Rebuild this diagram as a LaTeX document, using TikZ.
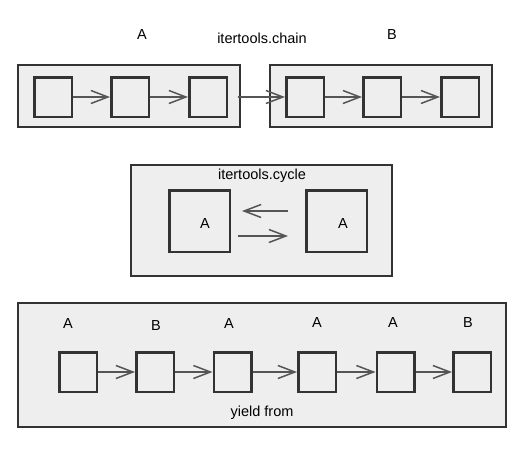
\documentclass[tikz,border=0pt]{standalone}
\usepackage{fontspec}
\setmainfont{Liberation Sans}
\usetikzlibrary{arrows.meta}
\definecolor{panelgray}{HTML}{EEEEEE}
\definecolor{edgegray}{HTML}{333333}
\definecolor{wiregray}{HTML}{555555}

\begin{document}
\begin{tikzpicture}[x=1pt, y=-1pt,
    panel/.style={draw=edgegray, line width=2.2pt, fill=panelgray, inner sep=0pt},
    item/.style={draw=edgegray, line width=2.5pt, minimum width=37.5pt, minimum height=39.5pt, inner sep=0pt},
    link/.style={draw=wiregray, line width=1.7pt, -{Straight Barb[length=17pt, width=13pt, line width=1.5pt]}},
    txt/.style={font=\fontsize{14.5}{16}\selectfont, inner sep=0pt, anchor=base}
  ]
  \useasboundingbox (0,0) rectangle (532,450); % Set the page

  % itertools.chain
  \node[panel, minimum width=222pt, minimum height=62pt] (chainA) at (129,96) {};
  \node[panel, minimum width=222pt, minimum height=62pt] (chainB) at (381,96) {};
  \node[txt] (labA) at (142,39) {A};
  \node[txt] (labB) at (392,39) {B};
  \node[txt] (chain) at (262,43) {itertools.chain};
  \foreach \n/\x in {1/53, 2/130, 3/208} {
    \node[item] (A\n) at (\x,97) {};
  }
  \foreach \n/\x in {1/305, 2/382, 3/460} {
    \node[item] (B\n) at (\x,97) {};
  }
  \foreach \a/\b in {A1/A2, A2/A3, B1/B2, B2/B3} {
    \draw[link] (\a) -- (\b);
  }
  \draw[link, shorten <=-3.5pt] (chainA.east |- B1.west) -- (B1.west);

  % itertools.cycle
  \node[panel, minimum width=261pt, minimum height=111pt] (cycle) at (261.5,220.5) {};
  \node[txt] (cyclelab) at (262,179) {itertools.cycle};
  \node[item, minimum width=60.5pt, minimum height=61.5pt] (L) at (199.5,221) {};
  \node[item, minimum width=60.5pt, minimum height=61.5pt] (R) at (336.5,221) {};
  \node[txt] (LA) at (205,228) {A};
  \node[txt] (RA) at (343,228) {A};
  \draw[link, shorten <=17pt, shorten >=11pt] ([yshift=10pt]R.west) -- ([yshift=10pt]L.east);
  \draw[link, shorten <=7pt, shorten >=17pt] ([yshift=-15pt]L.east) -- ([yshift=-15pt]R.west);

  % yield from
  \node[panel, minimum width=488pt, minimum height=124pt] (yield) at (262,365) {};
  \node[txt] (yieldlab) at (262,416) {yield from};
  \foreach \n/\x/\lx/\ly/\t in {1/78/68/328/A, 2/155/156/330/B, 3/232.5/229/328/A,
                                4/317/317/327/A, 5/395.5/393/327/A, 6/472/468/327/B} {
    \node[item] (Y\n) at (\x,372) {};
    \node[txt] (T\n) at (\lx,\ly) {\t};
  }
  \foreach \a/\b in {Y1/Y2, Y2/Y3, Y3/Y4, Y4/Y5, Y5/Y6} {
    \draw[link] (\a) -- (\b);
  }
\end{tikzpicture}
\end{document}
